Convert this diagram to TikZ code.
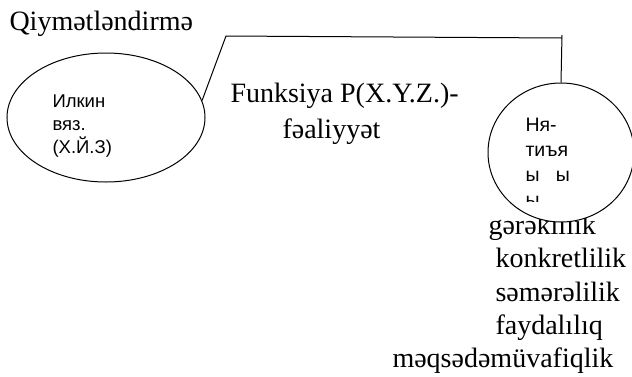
\documentclass[tikz,border=0pt]{standalone}
\usepackage{fontspec}
\setmainfont{Liberation Serif}
\setsansfont{Liberation Sans}
\usetikzlibrary{shapes.geometric}
\tikzset{%
	oval/.style={ellipse, draw=black, fill=white, line width=1pt,
		inner sep=0pt},
	inner/.style={font=\sffamily\fontsize{18.5}{23}\selectfont,
		align=left, anchor=north west, inner sep=0pt},
	caption/.style={font=\fontsize{28}{33}\selectfont,
		anchor=base west, inner sep=0pt},
	item/.style={font=\fontsize{28}{33}\selectfont,
		anchor=base west, inner sep=0pt},
}

\begin{document}
\begin{tikzpicture}[x=1pt, y=-1pt, line width=1pt]
    \useasboundingbox (0,0) rectangle (632,376);

    \node [caption] (Title) at (9,30) {Qiymətləndirmə};
    \node [caption] (Func) at (230,102) {Funksiya P(X.Y.Z.)-};
    \node [caption] (Feal) at (282,138) {fəaliyyət};

    % criteria under the result
    \node [item] (Crit01) at (488,234) {gərəklilik};
    \node [item] (Crit02) at (495,267) {konkretlilik};
    \node [item] (Crit03) at (495,301) {səmərəlilik};
    \node [item] (Crit04) at (495,334) {faydalılıq};
    \node [item] (Crit05) at (392,367) {məqsədəmüvafiqlik};

    \node [oval, minimum width=198pt, minimum height=129pt] (Ilkin) at (106,117.5) {};
    \node [inner] (IlkinText) at (52,94) {Илкин\\вяз.\\(Х.Й.З)};

    \node [oval, minimum width=146pt, minimum height=139pt] (Netice) at (561,152.5) {};
    \begin{scope}
        \clip (509,103) rectangle (613,201);
        \node [inner, font=\sffamily\fontsize{19.5}{25}\selectfont] (NeticeText) at (525,118)
            {Ня-\\тиъя\\ы\ \ \ ы\\ы};
    \end{scope}

    \coordinate (Bend) at (226,36);
    \coordinate (Corner) at (562,38);
    \coordinate (Tick) at (562,35);
    \draw (Ilkin.10) -- (Bend) -- (Corner);
    \draw (Tick) -- (Netice.north);
\end{tikzpicture}
\end{document}
